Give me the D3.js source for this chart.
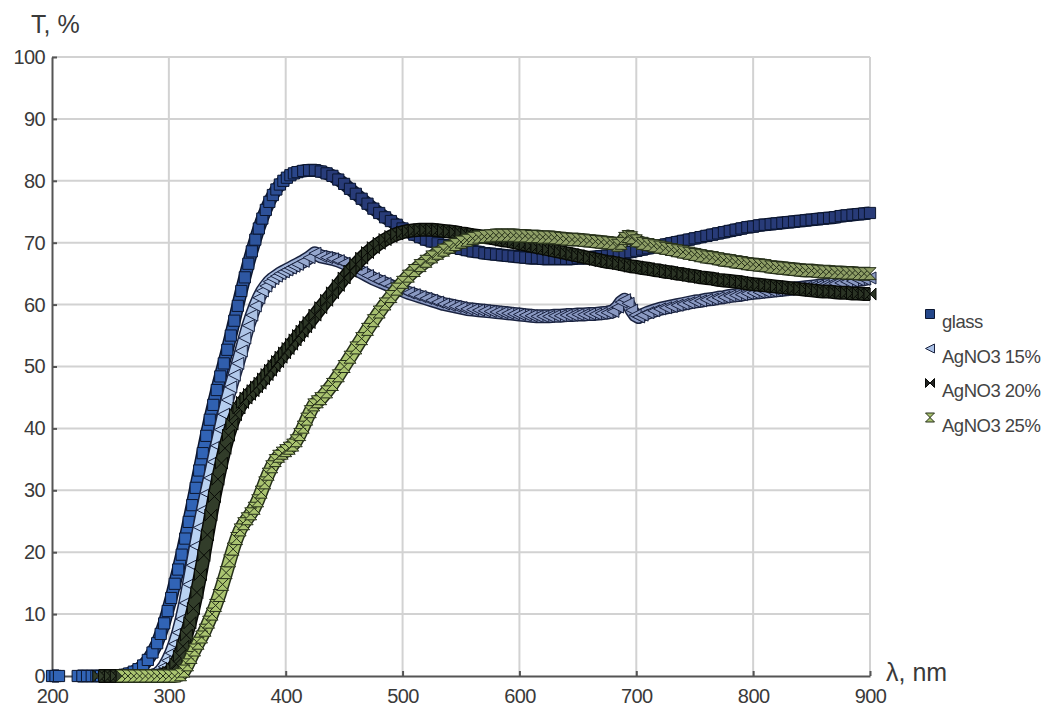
<!DOCTYPE html>
<html>
<head>
<meta charset="utf-8">
<script src="https://cdn.jsdelivr.net/npm/d3@7"></script>
<style>
  body { margin: 0; background: #fff; }
  svg { display: block; font-family: "Liberation Sans", Arial, sans-serif; }
  .tick text { fill: #3a3a3a; font-size: 20px; letter-spacing: -0.6px; }
</style>
</head>
<body>
<svg width="1053" height="715"></svg>
<script>
// wavelengths (nm) and transmission (%)
const glassWl = [200,203,206,222,226,230,234,238,242,246,250,254,258,262,266,270,274,278,282,286,
  290,293,296,299,302,305,308,311,314,317,320,323,326,329,332,335,338,341,344,347,350,353,356,359,
  362,365,368,371,374,377,380,383,386,389,392,395,398,401,404,407,410,415,420,425,430,435,440,445,
  450,455,460,465,470,475,480,485,490,495,500,505,510,515,520,525,530,535,540,545,550,555,560,565,
  570,575,580,585,590,595,600,605,610,615,620,625,630,635,640,645,650,655,660,665,670,675,680,685,
  690,695,700,705,710,715,720,725,730,735,740,745,750,755,760,765,770,775,780,785,790,795,800,805,
  810,815,820,825,830,835,840,845,850,855,860,865,870,875,880,885,890,895,900];
const glassT = [0,0,0,0,0,0,0,0,0,0,0,0,0,0.2,0.4,0.7,1.1,1.7,2.6,3.8,
  5.3,6.8,8.5,10.5,12.6,14.9,17.2,19.6,22.2,24.9,27.6,30.4,33.2,36,38.8,41.4,43.8,46.2,48.4,50.5,52.7,55,57.4,59.8,
  62.2,64.4,66.6,68.6,70.5,72.3,73.9,75.3,76.6,77.7,78.6,79.4,80,80.5,80.9,81.2,81.4,81.6,81.7,81.7,81.5,81.2,80.8,80.2,
  79.5,78.7,77.9,77.1,76.3,75.5,74.8,74.1,73.5,72.9,72.3,71.8,71.3,70.9,70.5,70.2,69.9,69.6,69.4,69.2,69,68.8,68.6,68.5,
  68.3,68.2,68.1,68,67.9,67.8,67.7,67.6,67.5,67.5,67.4,67.4,67.4,67.4,67.4,67.4,67.5,67.5,67.6,67.7,67.8,67.9,68,68.1,
  68.3,68.5,68.7,68.9,69.1,69.3,69.5,69.7,69.9,70.1,70.3,70.5,70.7,70.9,71.1,71.3,71.5,71.7,71.9,72.1,72.3,72.5,72.6,72.8,
  72.9,73,73.1,73.2,73.3,73.4,73.5,73.6,73.7,73.8,73.9,74,74.1,74.3,74.4,74.5,74.6,74.7,74.8];

const ag15Wl = [240,245,250,255,260,265,270,275,280,285,290,293,296,299,302,305,308,311,314,317,320,323,326,329,
  332,335,338,341,344,347,350,353,356,359,362,365,368,371,374,377,380,383,386,389,392,395,398,401,404,407,410,
  415,420,425,430,435,440,445,450,455,460,465,470,475,480,485,490,495,500,505,510,515,520,525,530,535,540,545,
  550,555,560,565,570,575,580,585,590,595,600,605,610,615,620,625,630,635,640,645,650,655,660,665,670,675,680,
  684,687,690,693,696,699,702,705,710,715,720,725,730,735,740,745,750,755,760,765,770,775,780,785,790,795,800,
  805,810,815,820,825,830,835,840,845,850,855,860,865,870,875,880,885,890,895,900];
const ag15T = [0,0,0,0,0,0,0,0,0,0,0.3,0.8,1.5,2.5,3.7,5.2,7,9.2,11.8,14.8,17.9,21,24,26.8,
  29.5,32,34.6,37.2,39.8,42.3,44.6,46.7,48.6,50.5,52.5,54.6,56.6,58.3,59.8,61.1,62.2,63,63.7,64.2,64.6,65,65.3,65.6,65.9,66.2,66.5,
  67,67.6,68.3,67.8,67.6,67.4,67.1,66.7,66.2,65.7,65.2,64.7,64.2,63.8,63.4,63,62.6,62.3,61.9,61.6,61.3,61,60.7,60.4,60.1,59.9,59.7,
  59.5,59.3,59.2,59.1,59,58.9,58.8,58.7,58.6,58.5,58.4,58.3,58.2,58.1,58.1,58.1,58.2,58.2,58.3,58.3,58.4,58.4,58.5,58.5,58.6,58.7,58.9,
  59.6,60.4,60.8,60.2,59.1,58.3,58,58.3,58.7,59,59.3,59.5,59.7,59.9,60.1,60.3,60.5,60.6,60.8,60.9,61.1,61.2,61.4,61.5,61.6,61.8,61.9,
  62,62.1,62.2,62.3,62.4,62.5,62.6,62.7,62.8,62.9,63,63.1,63.2,63.4,63.5,63.7,63.8,64,64.1,64.3];

const ag20Wl = [240,245,250,255,260,265,270,275,280,285,290,295,300,303,306,309,312,315,318,321,324,327,330,333,
  336,339,342,345,348,351,354,357,360,363,366,369,372,375,378,381,384,387,390,393,396,399,402,405,408,411,414,417,420,
  425,430,435,440,445,450,455,460,465,470,475,480,485,490,495,500,505,510,515,520,525,530,535,540,545,550,555,560,
  565,570,575,580,585,590,595,600,605,610,615,620,625,630,635,640,645,650,655,660,665,670,675,680,685,690,695,700,
  705,710,715,720,725,730,735,740,745,750,755,760,765,770,775,780,785,790,795,800,805,810,815,820,825,830,835,840,
  845,850,855,860,865,870,875,880,885,890,895,900];
const ag20T = [0,0,0,0,0,0,0,0,0,0,0,0.2,0.6,1.2,2,3.2,4.8,6.6,8.6,10.9,13.5,16.4,19.5,22.8,
  26,29,31.8,34.4,36.8,38.9,40.7,42.2,43.3,44.2,44.9,45.5,46.1,46.7,47.3,48,48.7,49.4,50.1,50.8,51.5,52.2,52.9,53.6,54.3,55,55.7,56.4,57.1,
  58.3,59.5,60.7,61.9,63.1,64.3,65.4,66.5,67.5,68.4,69.2,69.9,70.5,71,71.4,71.7,71.9,72,72.1,72.1,72.1,72,71.9,71.8,71.7,71.5,71.4,71.2,
  71.1,70.9,70.8,70.6,70.4,70.3,70.1,69.9,69.7,69.5,69.3,69.1,68.9,68.7,68.5,68.3,68.1,67.9,67.7,67.5,67.3,67.1,66.9,66.8,66.6,66.4,66.2,66.1,
  65.9,65.8,65.6,65.5,65.3,65.2,65,64.9,64.7,64.6,64.4,64.3,64.2,64,63.9,63.8,63.7,63.6,63.4,63.3,63.2,63.1,63,62.9,62.8,62.7,62.6,62.5,
  62.4,62.3,62.2,62.1,62.1,62,61.9,61.9,61.8,61.8,61.7,61.7];

const ag25Wl = [260,265,270,275,280,285,290,295,300,305,310,313,316,319,322,325,328,331,334,337,340,343,346,349,
  352,355,358,361,364,367,370,373,376,379,382,385,388,391,394,397,400,403,406,409,412,415,418,421,424,427,430,
  435,440,445,450,455,460,465,470,475,480,485,490,495,500,505,510,515,520,525,530,535,540,545,550,555,560,565,
  570,575,580,585,590,595,600,605,610,615,620,625,630,635,640,645,650,655,660,665,670,675,680,684,687,690,693,696,
  700,705,710,715,720,725,730,735,740,745,750,755,760,765,770,775,780,785,790,795,800,805,810,815,820,825,830,835,
  840,845,850,855,860,865,870,875,880,885,890,895,900];
const ag25T = [0,0,0,0,0,0,0,0,0,0,0.2,0.8,1.8,3,4.2,5.3,6.3,7.4,8.7,10,11.4,13,14.8,16.7,
  18.6,20.5,22.2,23.6,24.6,25.4,26.2,27.1,28.3,29.7,31.2,32.6,33.8,34.8,35.5,36,36.4,36.8,37.3,38,39,40.2,41.5,42.7,43.8,44.3,44.8,
  45.9,47.1,48.5,50,51.5,53,54.5,56,57.4,58.8,60.1,61.3,62.5,63.6,64.6,65.5,66.3,67,67.7,68.3,68.8,69.3,69.7,70.1,70.4,70.7,70.9,
  71,71.1,71.2,71.2,71.2,71.2,71.1,71.1,71,71,70.9,70.9,70.8,70.7,70.6,70.5,70.5,70.4,70.3,70.2,70.1,70,69.9,69.6,69.9,70.7,71,70.8,
  70.3,69.9,69.7,69.5,69.3,69.1,68.9,68.7,68.5,68.3,68.1,67.9,67.7,67.6,67.4,67.2,67.1,66.9,66.8,66.6,66.5,66.4,66.3,66.1,66,65.9,65.8,65.7,
  65.6,65.5,65.5,65.4,65.3,65.3,65.2,65.2,65.1,65.1,65,65,65];

const seriesNames = ['glass', 'AgNO3 15%', 'AgNO3 20%', 'AgNO3 25%'];
const xTicks = [200, 300, 400, 500, 600, 700, 800, 900];
const yTicks = [0, 10, 20, 30, 40, 50, 60, 70, 80, 90, 100];

const svg = d3.select('svg');
const x = d3.scaleLinear().domain([200, 900]).range([52, 870]);
const y = d3.scaleLinear().domain([0, 100]).range([676, 57]);

// marker shapes, centred on 0,0
function shape(kind, s) {
  if (kind === 'square') return `M${-s},${-s}H${s}V${s}H${-s}Z`;
  if (kind === 'triangle') return `M${-s},0L${s},${-s}L${s},${s}Z`;
  if (kind === 'bowtie') return `M${-s},${-s}L${s},${s}L${s},${-s}L${-s},${s}Z`;
  return `M${-s},${-s}L${s},${-s}L${-s},${s}L${s},${s}Z`; // hourglass
}

// fill shifts along the curve (bright on the slope, darker where the marks pile up)
const series = [
  { name: seriesNames[0], wl: glassWl, t: glassT, kind: 'square', from: [330, '#3164b6'], to: [440, '#283b78'], stroke: '#0b1630', size: 5.6, legend: '#24478a' },
  { name: seriesNames[1], wl: ag15Wl, t: ag15T, kind: 'triangle', from: [340, '#b9d2f2'], to: [450, '#8a99c2'], stroke: '#1a2340', size: 6, legend: '#a9c0e6' },
  { name: seriesNames[2], wl: ag20Wl, t: ag20T, kind: 'bowtie', from: [340, '#323d2a'], to: [450, '#2a3324'], stroke: '#080a06', size: 6, legend: '#222' },
  { name: seriesNames[3], wl: ag25Wl, t: ag25T, kind: 'hourglass', from: [460, '#aac470'], to: [580, '#8e9e66'], stroke: '#26301a', size: 6, legend: '#a8c16e' }
];

// grid
svg.append('g').selectAll('line').data(xTicks.slice(1)).join('line')
  .attr('x1', d => x(d)).attr('x2', d => x(d)).attr('y1', y(0)).attr('y2', y(100))
  .attr('stroke', '#d2d2d2').attr('stroke-width', 2);
svg.append('g').selectAll('line').data(yTicks.slice(1)).join('line')
  .attr('x1', x(200)).attr('x2', x(900)).attr('y1', d => y(d)).attr('y2', d => y(d))
  .attr('stroke', '#d2d2d2').attr('stroke-width', 2);

// axes
const xAxis = svg.append('g').attr('transform', `translate(0,${y(0)})`)
  .call(d3.axisBottom(x).tickValues(xTicks).tickSize(-5).tickSizeOuter(0).tickPadding(13));
const yAxis = svg.append('g').attr('transform', `translate(${x(200)},0)`)
  .call(d3.axisLeft(y).tickValues(yTicks).tickSize(-5).tickSizeOuter(0).tickPadding(7));
[xAxis, yAxis].forEach(g => {
  g.select('.domain').attr('stroke', '#555').attr('stroke-width', 2);
  g.selectAll('.tick line').attr('stroke', '#555').attr('stroke-width', 2);
  g.selectAll('.tick text').attr('font-family', null).attr('font-size', null);
});
xAxis.selectAll('.tick line').filter(d => d === 200).remove();

const defs = svg.append('defs');
const line = d3.line().x(d => x(d[0])).y(d => y(d[1]));

// series: a ribbon under the markers, then the markers
series.forEach((s, k) => {
  const col = d3.scaleLinear().domain([s.from[0], s.to[0]]).range([s.from[1], s.to[1]]).clamp(true);
  const grad = defs.append('linearGradient').attr('id', 'g' + k)
    .attr('gradientUnits', 'userSpaceOnUse')
    .attr('x1', x(s.from[0])).attr('x2', x(s.to[0])).attr('y1', 0).attr('y2', 0);
  grad.append('stop').attr('offset', 0).attr('stop-color', s.from[1]);
  grad.append('stop').attr('offset', 1).attr('stop-color', s.to[1]);

  const pts = s.wl.map((w, i) => [w, s.t[i]]);
  const segs = [];
  pts.forEach((p, i) => {
    if (i === 0 || p[0] - pts[i - 1][0] > 10) segs.push([]);
    segs[segs.length - 1].push(p);
  });
  const g = svg.append('g');
  g.selectAll('path.edge').data(segs).join('path').attr('class', 'edge')
    .attr('d', line).attr('fill', 'none').attr('stroke', s.stroke)
    .attr('stroke-width', s.size * 2 + 2).attr('stroke-linejoin', 'round');
  g.selectAll('path.body').data(segs).join('path').attr('class', 'body')
    .attr('d', line).attr('fill', 'none').attr('stroke', `url(#g${k})`)
    .attr('stroke-width', s.size * 2 - 1).attr('stroke-linejoin', 'round');
  g.selectAll('path.mk').data(pts).join('path').attr('class', 'mk')
    .attr('transform', d => `translate(${x(d[0])},${y(d[1])})`)
    .attr('d', shape(s.kind, s.size))
    .attr('fill', d => col(d[0])).attr('stroke', s.stroke).attr('stroke-width', 1);
});

// axis titles
svg.append('text').attr('x', 31).attr('y', 33).attr('font-size', 25).attr('fill', '#3a3a3a').text('T, %');
svg.append('text').attr('x', 886).attr('y', 681).attr('font-size', 25).attr('fill', '#3a3a3a').text('λ, nm');

// legend
const leg = svg.append('g').selectAll('g').data(series).join('g')
  .attr('transform', (d, i) => `translate(930,${328 + i * 34.5})`);
leg.append('path').attr('transform', 'translate(0,-14)')
  .attr('d', d => shape(d.kind, 4.5)).attr('fill', d => d.legend).attr('stroke', d => d.stroke);
leg.append('text').attr('x', 12).attr('font-size', 18.5).attr('letter-spacing', -0.5)
  .attr('fill', '#444').text(d => d.name);
</script>
</body>
</html>
